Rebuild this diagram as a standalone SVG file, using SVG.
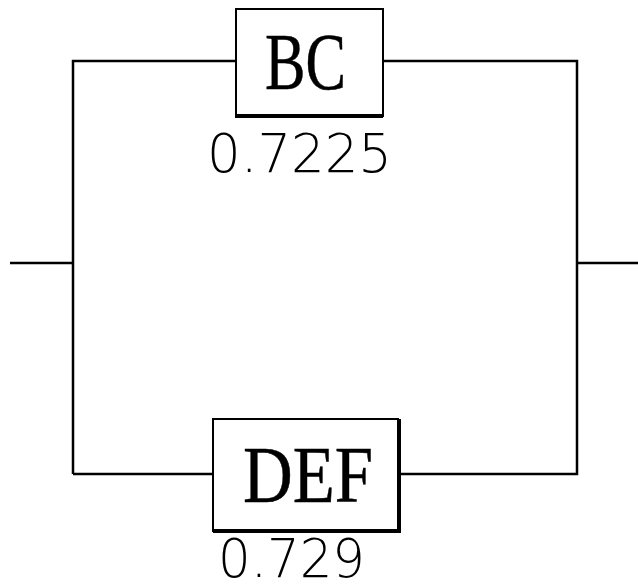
<svg xmlns="http://www.w3.org/2000/svg" width="638" height="587" viewBox="0 0 638 587">
  <style>
    .wire { fill: none; stroke: #000; stroke-width: 2.5; }
    .box { fill: #fff; stroke: #000; stroke-width: 2; }
    .shadow { fill: none; stroke: #000; stroke-width: 4; }
    .name { font-family: "Liberation Serif", "Times New Roman", serif; font-size: 80px; fill: #000; stroke: #000; stroke-width: 0.5; }
    .prob { font-family: "DejaVu Sans", "Liberation Sans", sans-serif; font-weight: 200; font-size: 54px; fill: #000; }
  </style>
  <rect width="638" height="587" fill="#fff"/>
  <g id="connectors">
    <path class="wire" d="M10 263 H73"/>
    <path class="wire" d="M73 474 V61 H235"/>
    <path class="wire" d="M383 61 H577 V474 H399"/>
    <path class="wire" d="M73 474 H213"/>
    <path class="wire" d="M577 263 H638"/>
  </g>
  <g id="bc">
    <rect class="box" x="236" y="9" width="147" height="107"/>
    <path class="shadow" d="M235 116 H383"/>
    <text class="name" x="265" y="89" textLength="81" lengthAdjust="spacingAndGlyphs">BC</text>
    <text class="prob" x="207" y="172" textLength="185" lengthAdjust="spacingAndGlyphs">0.7225</text>
  </g>
  <g id="def">
    <rect class="box" x="213" y="419" width="185" height="112"/>
    <path class="shadow" d="M213 531 H399 V419"/>
    <text class="name" x="243" y="502" textLength="130" lengthAdjust="spacingAndGlyphs">DEF</text>
    <text class="prob" x="218" y="577" textLength="147" lengthAdjust="spacingAndGlyphs">0.729</text>
  </g>
</svg>
